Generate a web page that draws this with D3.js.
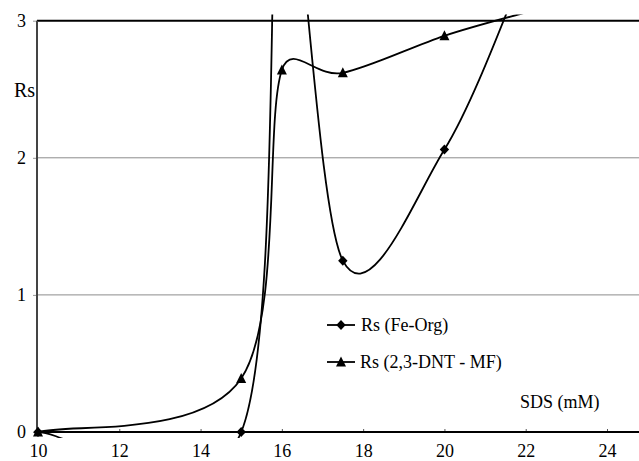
<!DOCTYPE html>
<html>
<head>
<meta charset="utf-8">
<script src="https://cdn.jsdelivr.net/npm/d3@7"></script>
</head>
<body style="margin:0">
<svg id="chart" width="639" height="461"></svg>
<script>
// SDS concentration (mM) at which each series was measured
const sdsFe = [10, 15, 16, 17.5, 20, 22];
const rsFe = [0, 0, 4.3, 1.25, 2.06, 3.4];

const sdsDnt = [10, 15, 16, 17.5, 20, 22];
const rsDnt = [0, 0.39, 2.64, 2.62, 2.89, 3.06];

const xTicks = [10, 12, 14, 16, 18, 20, 22, 24];
const yTicks = [0, 1, 2, 3];

const seriesNames = ["Rs (Fe-Org)", "Rs (2,3-DNT - MF)"];
const yTitle = "Rs";
const xTitle = "SDS (mM)";

const FONT = "Liberation Serif";
const W = 639, H = 461;
const svg = d3.select("#chart").style("display", "block");

const x = d3.scaleLinear().domain([10, 24]).range([38, 607]);
const y = d3.scaleLinear().domain([0, 3]).range([432, 20.7]);
const plotLeft = 37, plotRight = W;

// Smoothed line in the style of spreadsheet charts: cubic Bezier segments whose
// control points follow the neighbouring points, capped at half the segment length.
function smoothCurve(context) {
  let pts = [];
  return {
    areaStart() {}, areaEnd() {},
    lineStart() { pts = []; },
    point(px, py) { pts.push([+px, +py]); },
    lineEnd() {
      if (!pts.length) return;
      context.moveTo(pts[0][0], pts[0][1]);
      const dist = (a, b) => Math.hypot(a[0] - b[0], a[1] - b[1]);
      for (let i = 0; i < pts.length - 1; i++) {
        const p0 = pts[Math.max(0, i - 1)], p1 = pts[i], p2 = pts[i + 1],
              p3 = pts[Math.min(pts.length - 1, i + 2)];
        const d12 = dist(p1, p2), d02 = dist(p0, p2), d13 = dist(p1, p3);
        let f = 1 / 6, g = 1 / 6;
        if (d02 / 6 >= d12 / 2 && d02 > 0) f = d12 / d02 / 2;
        if (d13 / 6 >= d12 / 2 && d13 > 0) g = d12 / d13 / 2;
        const c1 = [p1[0] + f * (p2[0] - p0[0]), p1[1] + f * (p2[1] - p0[1])];
        const c2 = [p2[0] - g * (p3[0] - p1[0]), p2[1] - g * (p3[1] - p1[1])];
        context.bezierCurveTo(c1[0], c1[1], c2[0], c2[1], p2[0], p2[1]);
      }
    }
  };
}

// Gridlines at 1 and 2
svg.append("g")
  .selectAll("line")
  .data(yTicks.filter(v => v > 0 && v < 3))
  .join("line")
  .attr("x1", plotLeft).attr("x2", plotRight)
  .attr("y1", d => y(d)).attr("y2", d => y(d))
  .attr("stroke", "#8c8c8c").attr("stroke-width", 1);

// Top border at Rs = 3
svg.append("line")
  .attr("x1", plotLeft).attr("x2", plotRight)
  .attr("y1", y(3)).attr("y2", y(3))
  .attr("stroke", "#000").attr("stroke-width", 2);

// Y axis
const yAxis = svg.append("g")
  .attr("transform", `translate(${plotLeft},0)`)
  .call(d3.axisLeft(y).tickValues(yTicks).tickSize(4).tickPadding(7).tickFormat(d3.format("d")))
  .attr("font-family", FONT).attr("font-size", 18);
yAxis.select(".domain").remove();
yAxis.selectAll(".tick line").attr("stroke", "#999");
yAxis.selectAll("text").attr("fill", "#000");
svg.append("line")
  .attr("x1", plotLeft).attr("x2", plotLeft)
  .attr("y1", y(0)).attr("y2", y(3))
  .attr("stroke", "#444").attr("stroke-width", 2);

// X axis with inward ticks
const xAxis = svg.append("g")
  .attr("transform", `translate(0,${y(0)})`)
  .call(d3.axisBottom(x).tickValues(xTicks).tickSize(-3).tickPadding(12).tickFormat(d3.format("d")))
  .attr("font-family", FONT).attr("font-size", 18);
xAxis.select(".domain").remove();
xAxis.selectAll(".tick line").attr("stroke", "#555");
xAxis.selectAll("text").attr("fill", "#000");
svg.append("line")
  .attr("x1", plotLeft).attr("x2", plotRight)
  .attr("y1", y(0)).attr("y2", y(0))
  .attr("stroke", "#000").attr("stroke-width", 2);

// Clip region for the smoothed lines
svg.append("clipPath").attr("id", "plotClip")
  .append("rect")
  .attr("x", plotLeft).attr("y", 14.5)
  .attr("width", plotRight - plotLeft).attr("height", 438 - 14.5);

const line = d3.line().x(d => x(d[0])).y(d => y(d[1])).curve(smoothCurve);

const feData = sdsFe.map((s, i) => [s, rsFe[i]]);
const dntData = sdsDnt.map((s, i) => [s, rsDnt[i]]);

const lines = svg.append("g").attr("clip-path", "url(#plotClip)");
lines.append("path").datum(feData).attr("d", line)
  .attr("fill", "none").attr("stroke", "#000").attr("stroke-width", 1.8);
lines.append("path").datum(dntData).attr("d", line)
  .attr("fill", "none").attr("stroke", "#000").attr("stroke-width", 1.8);

// Marker shapes
const diamond = "M0,-5L4.7,0L0,5L-4.7,0Z";
const triangle = "M0,-5.5L5,4.5L-5,4.5Z";

const inRange = d => d[1] >= 0 && d[1] <= 3;

svg.append("g").selectAll("path")
  .data(feData.filter(inRange))
  .join("path")
  .attr("d", diamond)
  .attr("transform", d => `translate(${x(d[0])},${y(d[1])})`)
  .attr("fill", "#000");

svg.append("g").selectAll("path")
  .data(dntData.filter(inRange))
  .join("path")
  .attr("d", triangle)
  .attr("transform", d => `translate(${x(d[0])},${y(d[1])})`)
  .attr("fill", "#000");

// Legend
const legendRows = [
  { name: seriesNames[0], marker: diamond, ly: 325, ty: 331, tx: 361 },
  { name: seriesNames[1], marker: triangle, ly: 362, ty: 368, tx: 360 }
];
const lg = svg.append("g").attr("font-family", FONT).attr("font-size", 18);
legendRows.forEach(r => {
  lg.append("line").attr("x1", 327).attr("x2", 355).attr("y1", r.ly).attr("y2", r.ly)
    .attr("stroke", "#000").attr("stroke-width", 1.8);
  lg.append("path").attr("d", r.marker).attr("transform", `translate(341,${r.ly})`).attr("fill", "#000");
  lg.append("text").attr("x", r.tx).attr("y", r.ty).text(r.name);
});

// Axis titles
svg.append("text").attr("x", 14).attr("y", 97)
  .attr("font-family", FONT).attr("font-size", 20).text(yTitle);
svg.append("text").attr("x", 520).attr("y", 408)
  .attr("font-family", FONT).attr("font-size", 18).text(xTitle);
</script>
</body>
</html>
